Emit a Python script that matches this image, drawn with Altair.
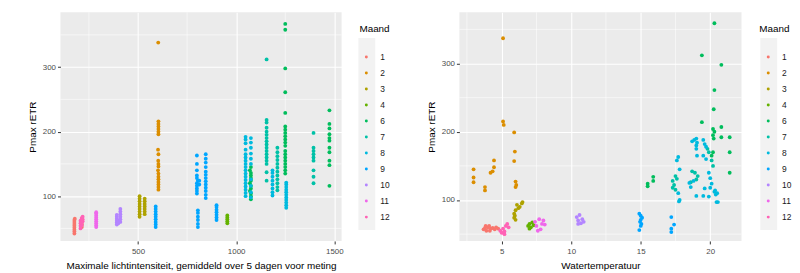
import altair as alt
import pandas as pd

MONTHS = ["1", "2", "3", "4", "6", "7", "8", "9", "10", "11", "12"]
COLORS = ["#F8766D", "#DB8E00", "#AEA200", "#64B200", "#00BD5C", "#00C1A7",
          "#00BADE", "#00A6FF", "#B385FF", "#EF67EB", "#FF63B6"]

# ---- left panel: (light intensity, Pmax rETR) per month ----
LIGHT_M1 = [(176, 42), (176, 45), (176, 48), (176, 51), (176, 54), (176, 57), (176, 60), (176, 63),
            (178, 65), (214, 52), (214, 56), (214, 60)]
LIGHT_M2 = [(603, 338), (604, 216), (604, 212), (604, 208), (604, 204), (604, 200), (604, 196),
            (602, 172), (604, 165), (603, 155), (604, 150), (604, 146), (602, 140), (604, 135),
            (604, 130), (604, 126), (604, 122), (604, 118), (604, 114), (604, 110)]
LIGHT_M3 = [(508, 68), (508, 72), (508, 76), (508, 80), (508, 84), (508, 88), (508, 92), (508, 96),
            (508, 100), (534, 72), (534, 76), (534, 80), (534, 84), (534, 88), (534, 92), (534, 96)]
LIGHT_M4 = [(955, 58), (955, 61), (955, 64), (955, 67), (955, 70)]
LIGHT_M6 = [(1075, 95), (1075, 100), (1075, 104), (1070, 108), (1075, 112), (1075, 116), (1070, 120),
            (1075, 124), (1075, 128), (1075, 132), (1075, 136), (1070, 140), (1075, 145),
            (1250, 367), (1250, 358), (1250, 298), (1250, 261), (1250, 229), (1250, 208), (1250, 203),
            (1250, 198), (1250, 193), (1250, 188), (1250, 183), (1250, 178), (1250, 170), (1250, 165),
            (1250, 160), (1250, 155), (1250, 150), (1250, 145), (1250, 140), (1250, 135),
            (1475, 233), (1475, 212), (1475, 205), (1475, 196), (1475, 190), (1475, 186), (1475, 175),
            (1475, 168), (1475, 155), (1475, 148), (1475, 116)]
LIGHT_M7 = [(1155, 312), (1155, 218), (1155, 214), (1155, 206), (1155, 200), (1155, 195), (1155, 190),
            (1155, 185), (1155, 180), (1155, 175), (1155, 170), (1155, 165), (1155, 160), (1155, 155),
            (1155, 150), (1155, 137), (1155, 124),
            (1210, 175), (1210, 168), (1210, 162), (1210, 156), (1210, 150), (1210, 144), (1210, 138),
            (1210, 132), (1210, 126), (1210, 120), (1210, 114), (1210, 109),
            (1394, 198), (1394, 175), (1394, 170), (1394, 165), (1394, 160), (1394, 155), (1394, 140),
            (1394, 130), (1394, 120)]
LIGHT_M8 = [(1048, 100), (1048, 105), (1048, 110), (1048, 115), (1048, 120), (1048, 125), (1048, 130),
            (1048, 135), (1048, 140), (1048, 145), (1048, 150), (1048, 155), (1048, 160), (1048, 165),
            (1048, 172), (1048, 182), (1048, 188), (1048, 192),
            (1075, 98), (1075, 106), (1075, 116), (1075, 126), (1075, 150), (1075, 158), (1075, 166),
            (1075, 175), (1075, 183), (1075, 190),
            (1185, 101), (1185, 106), (1185, 112), (1185, 118), (1185, 124), (1185, 130), (1185, 136),
            (1185, 140),
            (1255, 82), (1255, 86), (1255, 90), (1255, 94), (1255, 98), (1255, 102), (1255, 106),
            (1255, 110), (1255, 114), (1255, 118), (1255, 121)]
LIGHT_M9 = [(590, 52), (590, 56), (590, 60), (590, 64), (590, 68), (590, 72), (590, 76), (590, 80),
            (590, 84),
            (805, 52), (805, 57), (805, 63), (805, 68), (805, 74), (805, 78),
            (800, 104), (800, 108), (800, 112), (800, 116), (800, 120), (805, 124), (800, 128),
            (800, 132), (800, 140), (800, 150), (800, 163), (812, 118), (812, 124),
            (845, 97), (845, 102), (845, 108), (845, 113), (845, 118), (845, 123), (845, 128),
            (845, 133), (845, 138), (845, 145), (845, 152), (845, 158), (845, 165),
            (900, 63), (900, 67), (900, 71), (900, 75), (900, 79), (900, 83), (900, 86)]
LIGHT_M10 = [(392, 56), (392, 59), (392, 62), (392, 65), (392, 68), (392, 71), (400, 58), (400, 62),
             (410, 60), (410, 64), (410, 68), (410, 72), (410, 76), (410, 80)]
LIGHT_M11 = [(287, 52), (287, 55), (287, 58), (287, 61), (287, 64), (287, 67), (287, 70), (287, 73),
             (287, 75)]
LIGHT_M12 = [(207, 50), (207, 54), (207, 58), (207, 62), (213, 55), (213, 59), (213, 63), (213, 66),
             (218, 61), (218, 64), (218, 68)]

# ---- right panel: (water temperature, Pmax rETR) per month ----
TEMP_M1 = [(3.7, 57), (3.8, 59), (3.9, 55), (4.0, 60), (4.1, 62), (4.2, 58), (4.35, 59), (4.5, 57),
           (4.6, 60), (4.75, 58), (3.85, 62), (4.15, 55)]
TEMP_M2 = [(2.98, 145), (2.98, 133), (2.98, 126), (3.8, 119), (3.8, 114), (4.2, 140), (4.35, 142),
           (4.45, 148), (4.45, 158), (5.1, 337), (5.1, 215), (5.15, 210), (5.9, 199), (5.95, 171),
           (5.9, 157), (6.0, 127), (6.05, 122), (6.0, 119)]
TEMP_M3 = [(6.5, 97), (6.45, 95), (6.3, 90), (6.2, 88), (6.0, 85), (5.9, 80), (5.95, 77), (5.9, 74),
           (6.0, 71), (6.1, 93)]
TEMP_M4 = [(6.9, 62), (7.0, 65), (7.1, 60), (7.2, 67), (7.3, 63), (7.0, 58)]
TEMP_M6 = [(20.3, 359), (19.4, 312), (20.8, 298), (20.3, 261), (20.25, 233), (19.4, 214), (20.2, 204),
           (20.3, 200), (20.2, 195), (20.25, 190), (20.8, 207), (20.8, 192), (21.4, 192), (21.4, 170),
           (21.4, 140), (15.5, 124), (15.5, 120), (15.9, 134), (15.9, 128), (20.2, 170), (20.1, 165)]
TEMP_M7 = [(17.3, 128), (17.4, 122), (17.3, 118), (17.5, 115), (17.6, 131), (17.5, 135), (18.7, 142),
           (18.9, 140), (19.0, 130), (18.6, 126), (19.1, 135), (19.8, 175), (19.9, 170), (20.1, 158),
           (20.2, 150)]
TEMP_M8 = [(17.7, 163), (17.6, 158), (17.8, 145), (17.7, 110), (17.75, 98), (18.7, 186), (18.85, 188),
           (19.0, 190), (19.05, 184), (19.0, 180), (19.0, 175), (19.05, 165), (19.5, 188), (19.6, 182),
           (19.7, 178), (19.5, 165), (19.7, 160), (18.5, 125), (18.6, 119), (18.8, 128), (19.0, 106),
           (19.5, 106), (19.6, 117), (19.9, 140), (20.0, 132), (20.1, 124), (20.0, 118), (20.3, 112),
           (20.4, 108), (20.5, 110), (20.45, 97), (20.55, 97), (20.35, 114), (19.9, 105), (17.8, 100)]
TEMP_M9 = [(14.9, 80), (15.0, 77), (15.1, 74), (15.0, 71), (14.95, 68), (15.05, 65), (15.0, 62),
           (14.9, 56), (17.2, 75), (17.4, 64), (17.2, 58), (17.2, 53)]
TEMP_M10 = [(10.4, 75), (10.5, 70), (10.6, 78), (10.7, 66), (10.8, 72), (10.9, 68), (10.5, 65)]
TEMP_M11 = [(7.4, 68), (7.5, 62), (7.7, 72), (7.8, 57), (7.9, 65), (8.0, 70), (8.1, 64), (7.6, 55)]
TEMP_M12 = [(4.9, 55), (5.0, 52), (5.1, 58), (5.2, 54), (5.3, 62), (5.4, 65), (5.2, 50), (5.5, 60)]

LIGHT_SETS = [LIGHT_M1, LIGHT_M2, LIGHT_M3, LIGHT_M4, LIGHT_M6, LIGHT_M7, LIGHT_M8, LIGHT_M9,
              LIGHT_M10, LIGHT_M11, LIGHT_M12]
TEMP_SETS = [TEMP_M1, TEMP_M2, TEMP_M3, TEMP_M4, TEMP_M6, TEMP_M7, TEMP_M8, TEMP_M9,
             TEMP_M10, TEMP_M11, TEMP_M12]

Y_MAJOR = [100, 200, 300]
Y_MINOR = [50, 150, 250, 350]
LIGHT_MAJOR = [500, 1000, 1500]
LIGHT_MINOR = [250, 750, 1250]
TEMP_MAJOR = [5, 10, 15, 20]
TEMP_MINOR = [2.5, 7.5, 12.5, 17.5]

FONT = "Liberation Sans"


def to_frame(sets):
    rows = []
    for m, pts in zip(MONTHS, sets):
        for x, y in pts:
            rows.append({"Maand": m, "x": x, "y": y})
    return pd.DataFrame(rows)


color = alt.Color("Maand:N", scale=alt.Scale(domain=MONTHS, range=COLORS), legend=None)


def scatter(sets, xtitle, xdom, ydom, xmaj, xmin, width):
    df = to_frame(sets)
    xs = alt.Scale(domain=xdom, nice=False, zero=False)
    ys = alt.Scale(domain=ydom, nice=False, zero=False)
    xaxis = alt.Axis(values=xmaj, format="d", titlePadding=5, labelPadding=4)
    yaxis = alt.Axis(values=Y_MAJOR, format="d", titlePadding=5)
    vminor = alt.Chart(pd.DataFrame({"x": xmin})).mark_rule(color="white", strokeWidth=0.55).encode(
        x=alt.X("x:Q", scale=xs, title=xtitle, axis=xaxis))
    hminor = alt.Chart(pd.DataFrame({"y": Y_MINOR})).mark_rule(color="white", strokeWidth=0.55).encode(
        y=alt.Y("y:Q", scale=ys, title="Pmax rETR", axis=yaxis))
    pts = alt.Chart(df).mark_circle(size=15, opacity=1).encode(
        x=alt.X("x:Q", scale=xs, title=xtitle, axis=xaxis),
        y=alt.Y("y:Q", scale=ys, title="Pmax rETR", axis=yaxis),
        color=color,
    )
    return alt.layer(vminor, hminor, pts).properties(
        width=width, height=231,
        view=alt.ViewBackground(fill="#EBEBEB", stroke=None))


def legend(width, off_sym, off_lab):
    ldf = pd.DataFrame({"Maand": MONTHS})
    one = pd.DataFrame({"t": ["Maand"]})
    yenc = alt.Y("Maand:N", sort=MONTHS, scale=alt.Scale(domain=MONTHS, range=[37, 215]), axis=None)
    box = alt.Chart(one).mark_rect(color="#F2F2F2").encode(
        x=alt.value(off_sym - 8), x2=alt.value(off_sym + 9), y=alt.value(26), y2=alt.value(220))
    title = alt.Chart(one).mark_text(align="left", baseline="middle", fontSize=10, font=FONT,
                                     color="black").encode(
        x=alt.value(1), y=alt.value(17), text="t:N")
    dots = alt.Chart(ldf).mark_circle(size=9, opacity=1).encode(
        x=alt.value(off_sym), y=yenc, color=color)
    labs = alt.Chart(ldf).mark_text(align="left", baseline="middle", fontSize=8.5, font=FONT,
                                    color="#1A1A1A").encode(
        x=alt.value(off_lab), y=yenc, text="Maand:N")
    return alt.layer(box, title, dots, labs).properties(
        width=width, height=231, view=alt.ViewBackground(fill=None, stroke=None))


left = scatter(LIGHT_SETS, "Maximale lichtintensiteit, gemiddeld over 5 dagen voor meting",
               [105, 1537], [30.5, 385], LIGHT_MAJOR, LIGHT_MINOR, 284)
right = scatter(TEMP_SETS, "Watertemperatuur",
                [1.96, 22.25], [40, 375], TEMP_MAJOR, TEMP_MINOR, 285)

chart = alt.hconcat(
    left, legend(85, 8, 22), right, legend(27, 10, 24),
    spacing=17, bounds="flush",
    padding={"left": 19, "top": 2, "right": 0, "bottom": 0},
).configure_view(stroke=None).configure_axis(
    grid=True, gridColor="white", gridWidth=1.1, domain=False,
    tickColor="#333333", tickSize=3, labelPadding=2,
    labelColor="#4D4D4D", labelFontSize=8, labelFont=FONT,
    titleFont=FONT, titleFontSize=10, titleColor="black", titleFontWeight="normal",
)

chart.save("out.html", embed_options={"renderer": "svg", "actions": False})
